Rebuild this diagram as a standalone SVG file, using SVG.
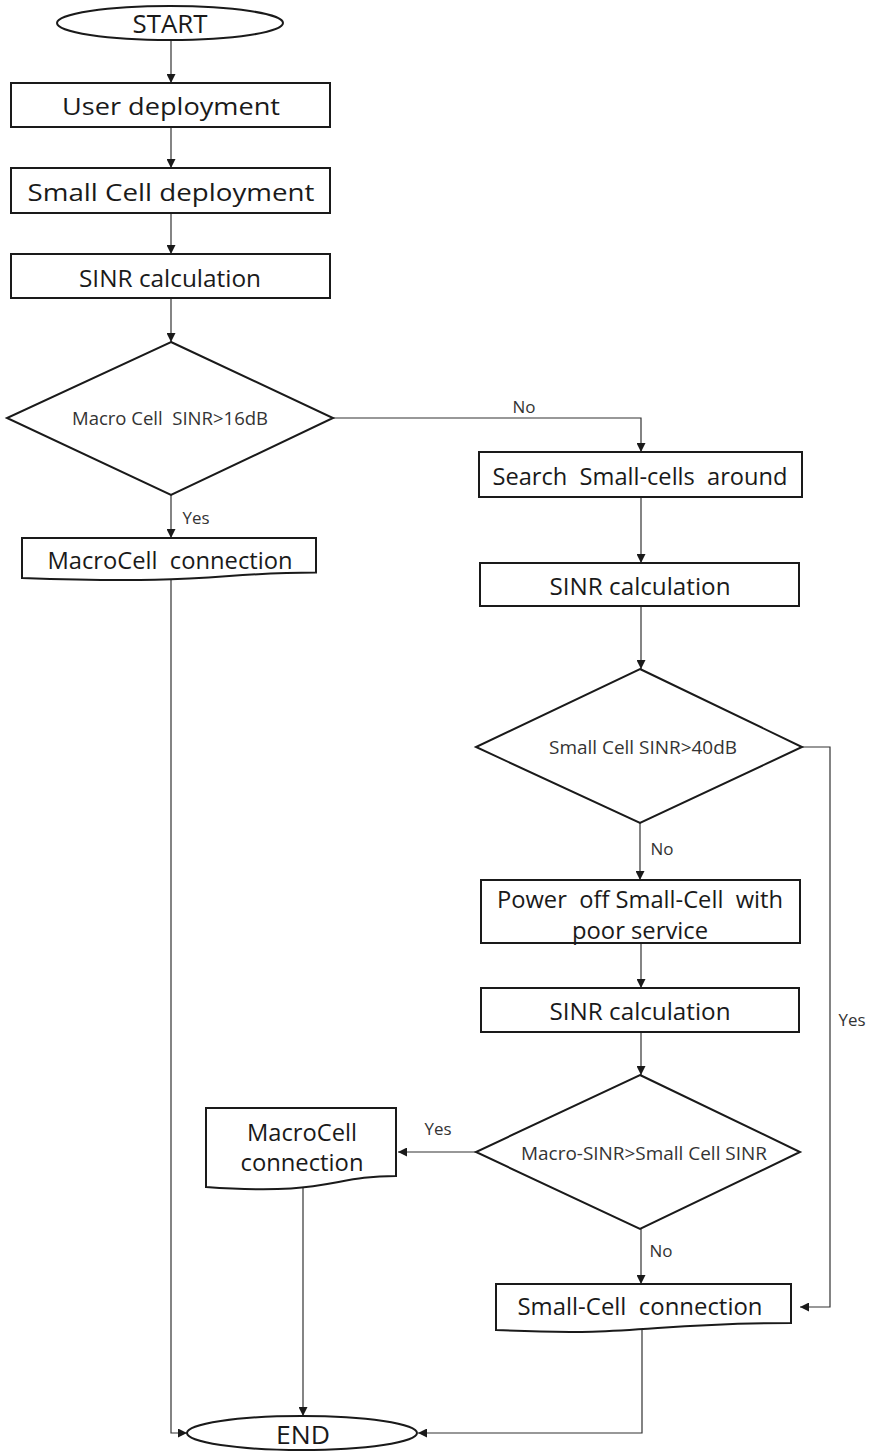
<svg xmlns="http://www.w3.org/2000/svg" width="869" height="1451" viewBox="0 0 869 1451">
  <style>
    .shape { fill: #ffffff; stroke: #1a1a1a; stroke-width: 2; }
    .conn { fill: none; stroke: #333333; stroke-width: 1.2; }
    .t { font-family: "Open Sans", "Noto Sans", "DejaVu Sans", sans-serif; fill: #1a1a1a; text-anchor: middle; dominant-baseline: central; white-space: pre; }
    .big { font-size: 24px; }
    .term { font-size: 25px; }
    .small { font-size: 18px; fill: #333333; }
    .lbl { font-size: 17px; fill: #333333; }
  </style>
  <defs>
    <marker id="arrow" viewBox="0 0 10 10" refX="10" refY="5" markerWidth="9" markerHeight="9" markerUnits="userSpaceOnUse" orient="auto">
      <path d="M0,0 L10,5 L0,10 Z" fill="#1a1a1a"/>
    </marker>
  </defs>

  <!-- connectors -->
  <g id="connectors">
    <path class="conn" d="M171,41 V83" marker-end="url(#arrow)"/>
    <path class="conn" d="M171,127 V168" marker-end="url(#arrow)"/>
    <path class="conn" d="M171,213 V254" marker-end="url(#arrow)"/>
    <path class="conn" d="M171,298 V342" marker-end="url(#arrow)"/>
    <path class="conn" d="M171,495 V538" marker-end="url(#arrow)"/>
    <path class="conn" d="M333,418 H641 V452" marker-end="url(#arrow)"/>
    <path class="conn" d="M641,497 V563" marker-end="url(#arrow)"/>
    <path class="conn" d="M641,606 V669" marker-end="url(#arrow)"/>
    <path class="conn" d="M640,823 V880" marker-end="url(#arrow)"/>
    <path class="conn" d="M641,943 V988" marker-end="url(#arrow)"/>
    <path class="conn" d="M641,1032 V1075" marker-end="url(#arrow)"/>
    <path class="conn" d="M802,747 H830 V1307 H800" marker-end="url(#arrow)"/>
    <path class="conn" d="M476,1152 H398" marker-end="url(#arrow)"/>
    <path class="conn" d="M641,1229 V1284" marker-end="url(#arrow)"/>
    <path class="conn" d="M171,580 V1433 H187" marker-end="url(#arrow)"/>
    <path class="conn" d="M303,1186 V1416" marker-end="url(#arrow)"/>
    <path class="conn" d="M642,1327 V1433 H418" marker-end="url(#arrow)"/>
  </g>

  <!-- branch labels -->
  <g id="labels">
    <text class="t lbl" x="196" y="517" textLength="27" lengthAdjust="spacingAndGlyphs">Yes</text>
    <text class="t lbl" x="524" y="406" textLength="23" lengthAdjust="spacingAndGlyphs">No</text>
    <text class="t lbl" x="662" y="848" textLength="23" lengthAdjust="spacingAndGlyphs">No</text>
    <text class="t lbl" x="852" y="1019" textLength="27" lengthAdjust="spacingAndGlyphs">Yes</text>
    <text class="t lbl" x="438" y="1128" textLength="27" lengthAdjust="spacingAndGlyphs">Yes</text>
    <text class="t lbl" x="661" y="1250" textLength="23" lengthAdjust="spacingAndGlyphs">No</text>
  </g>

  <g id="start">
    <ellipse class="shape" cx="170" cy="23" rx="113" ry="17"/>
    <text class="t term" x="170" y="23" textLength="75" lengthAdjust="spacingAndGlyphs">START</text>
  </g>

  <g id="user-deployment">
    <rect class="shape" x="11" y="83" width="319" height="44"/>
    <text class="t big" x="171" y="105" textLength="218" lengthAdjust="spacingAndGlyphs">User deployment</text>
  </g>

  <g id="small-cell-deployment">
    <rect class="shape" x="11" y="168" width="319" height="45"/>
    <text class="t big" x="171" y="191" textLength="287" lengthAdjust="spacingAndGlyphs">Small Cell deployment</text>
  </g>

  <g id="sinr-1">
    <rect class="shape" x="11" y="254" width="319" height="44"/>
    <text class="t big" x="170" y="277" textLength="182" lengthAdjust="spacingAndGlyphs">SINR calculation</text>
  </g>

  <g id="macro-decision">
    <polygon class="shape" points="171,342 333,418 171,495 7,418"/>
    <text class="t small" x="170" y="418" textLength="196" lengthAdjust="spacingAndGlyphs">Macro Cell  SINR&gt;16dB</text>
  </g>

  <g id="macrocell-connection-1">
    <path class="shape" d="M22,538 H316 V572.5 C214,572.5 214,585 22,578 Z"/>
    <text class="t big" x="170" y="559" textLength="245" lengthAdjust="spacingAndGlyphs">MacroCell  connection</text>
  </g>

  <g id="search-small-cells">
    <rect class="shape" x="479" y="452" width="323" height="45"/>
    <text class="t big" x="640" y="475" textLength="295" lengthAdjust="spacingAndGlyphs">Search  Small-cells  around</text>
  </g>

  <g id="sinr-2">
    <rect class="shape" x="480" y="563" width="319" height="43"/>
    <text class="t big" x="640" y="585" textLength="181" lengthAdjust="spacingAndGlyphs">SINR calculation</text>
  </g>

  <g id="small-decision">
    <polygon class="shape" points="640,669 802,747 640,823 476,747"/>
    <text class="t small" x="643" y="747" textLength="188" lengthAdjust="spacingAndGlyphs">Small Cell SINR&gt;40dB</text>
  </g>

  <g id="power-off">
    <rect class="shape" x="481" y="880" width="319" height="63"/>
    <text class="t big" x="640" y="898" textLength="286" lengthAdjust="spacingAndGlyphs">Power  off Small-Cell  with</text>
    <text class="t big" x="640" y="929" textLength="136" lengthAdjust="spacingAndGlyphs">poor service</text>
  </g>

  <g id="sinr-3">
    <rect class="shape" x="481" y="988" width="318" height="44"/>
    <text class="t big" x="640" y="1010" textLength="181" lengthAdjust="spacingAndGlyphs">SINR calculation</text>
  </g>

  <g id="compare-decision">
    <polygon class="shape" points="640,1075 800,1152 640,1229 476,1152"/>
    <text class="t small" x="644" y="1153" textLength="246" lengthAdjust="spacingAndGlyphs">Macro-SINR&gt;Small Cell SINR</text>
  </g>

  <g id="macrocell-connection-2">
    <path class="shape" d="M206,1108 H396 V1176 C330,1176 330,1196 206,1187 Z"/>
    <text class="t big" x="302" y="1131" textLength="110" lengthAdjust="spacingAndGlyphs">MacroCell</text>
    <text class="t big" x="302" y="1161" textLength="123" lengthAdjust="spacingAndGlyphs">connection</text>
  </g>

  <g id="small-cell-connection">
    <path class="shape" d="M496,1284 H791 V1323 C644,1323 644,1337 496,1330 Z"/>
    <text class="t big" x="640" y="1305" textLength="245" lengthAdjust="spacingAndGlyphs">Small-Cell  connection</text>
  </g>

  <g id="end">
    <ellipse class="shape" cx="302" cy="1433" rx="115" ry="17"/>
    <text class="t term" x="303" y="1434" textLength="54" lengthAdjust="spacingAndGlyphs">END</text>
  </g>
</svg>
